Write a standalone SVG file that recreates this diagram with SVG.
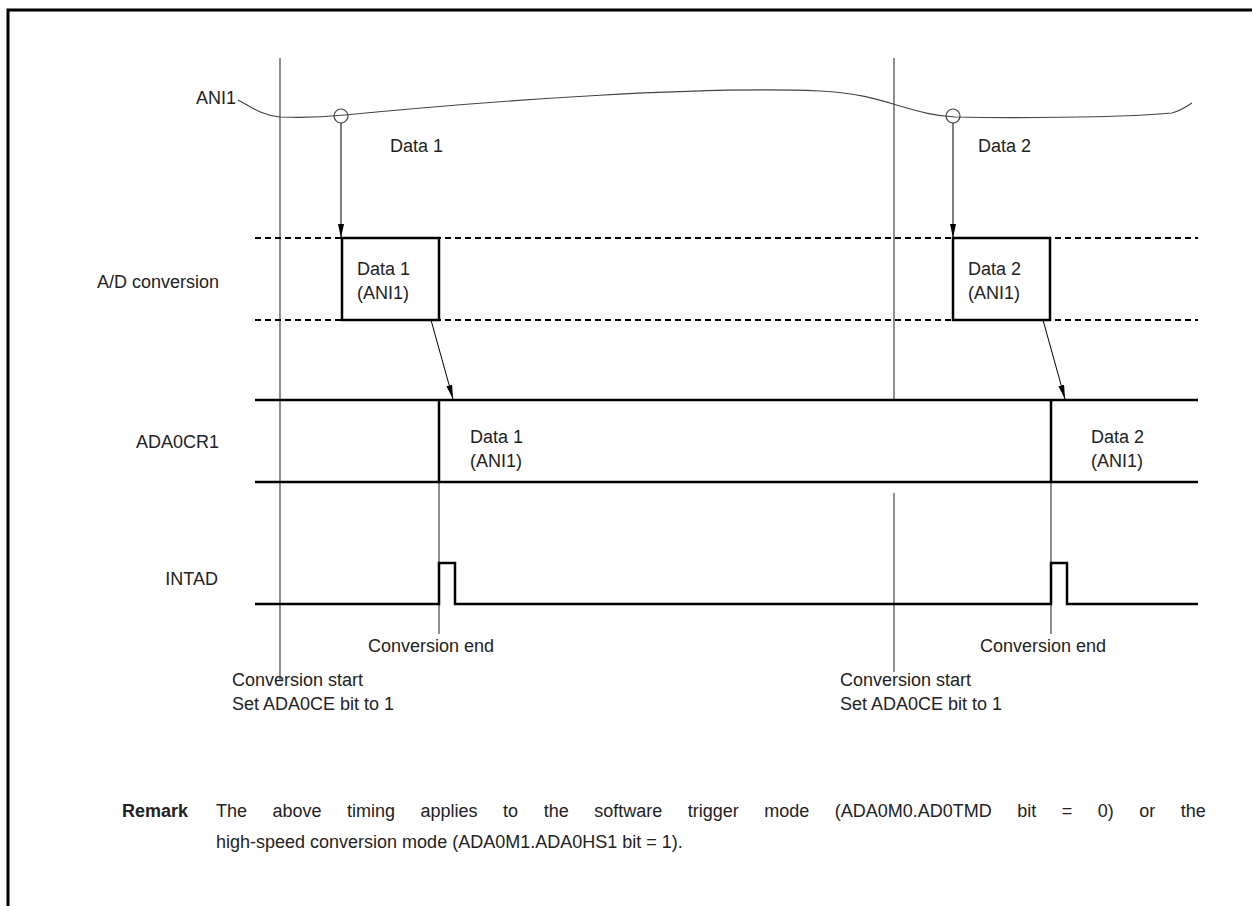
<svg xmlns="http://www.w3.org/2000/svg" width="1252" height="906" viewBox="0 0 1252 906">
<style>
text{font-family:"Liberation Sans",Arial,sans-serif;font-size:18px;fill:#222}
.lbl{text-anchor:end}
.rm{font-size:18px}
.thin{stroke:#444;stroke-width:1.2;fill:none}
.sig{stroke:#000;stroke-width:2.5;fill:none}
.dash{stroke:#000;stroke-width:2;stroke-dasharray:6 4;fill:none}
.box{stroke:#000;stroke-width:2.5;fill:#fff}
.arr{stroke:#000;stroke-width:1;fill:none;marker-end:url(#ah)}
</style>
<defs>
<marker id="ah" markerWidth="14" markerHeight="6" refX="14" refY="3" orient="auto" markerUnits="userSpaceOnUse" viewBox="0 0 14 6">
<path d="M0,0 L14,3 L0,6 Z" fill="#000"/>
</marker>
</defs>
<rect width="1252" height="906" fill="#fff"/>
<path d="M8,906 V10 H1252" stroke="#000" stroke-width="3" fill="none"/>

<g id="labels">
<text class="lbl" x="236" y="104">ANI1</text>
<text class="lbl" x="219" y="288">A/D conversion</text>
<text class="lbl" x="219" y="448">ADA0CR1</text>
<text class="lbl" x="218" y="585">INTAD</text>
</g>

<g id="guides">
<path class="thin" d="M280,58 V680"/>
<path class="thin" d="M894,58 V400 M894,493 V672"/>
<path class="thin" d="M439,482 V634 M1051,482 V634"/>
</g>

<g id="ani1">
<path class="thin" stroke-width="1" d="M238,100 C250,106 260,115 280,117 C300,118 325,117 345,115 C500,100 700,86 820,91 C860,93 880,100 900,106 C920,112 935,116 955,117 C1000,118 1120,118 1172,113 C1180,111 1186,107 1192,103"/>
<circle cx="341" cy="116" r="7" class="thin" stroke-width="1"/>
<circle cx="953" cy="116" r="7" class="thin" stroke-width="1"/>
<text x="390" y="152">Data 1</text>
<text x="978" y="152">Data 2</text>
</g>

<g id="adconv">
<path class="dash" d="M255,238 H1198 M255,320 H1198"/>
<g id="box1">
<rect class="box" x="342" y="238" width="97" height="82"/>
<text x="357" y="275">Data 1</text>
<text x="357" y="299">(ANI1)</text>
</g>
<g id="box2">
<rect class="box" x="953" y="238" width="97" height="82"/>
<text x="968" y="275">Data 2</text>
<text x="968" y="299">(ANI1)</text>
</g>
</g>

<g id="ada0cr1">
<path class="sig" d="M255,400 H1198 M255,482 H1198 M439,400 V482 M1051,400 V482"/>
<text x="470" y="443">Data 1</text>
<text x="470" y="467">(ANI1)</text>
<text x="1091" y="443">Data 2</text>
<text x="1091" y="467">(ANI1)</text>
</g>

<g id="intad">
<path class="sig" d="M255,604 H439 V563 H455 V604 H1051 V563 H1067 V604 H1198"/>
</g>

<g id="connectors">
<path class="arr" d="M341,123 V238"/>
<path class="arr" d="M953,123 V238"/>
<path class="arr" d="M431,320 L453,399"/>
<path class="arr" d="M1043,320 L1065,399"/>
</g>

<g id="notes">
<text x="368" y="652">Conversion end</text>
<text x="980" y="652">Conversion end</text>
<text x="232" y="686">Conversion start</text>
<text x="232" y="710">Set ADA0CE bit to 1</text>
<text x="840" y="686">Conversion start</text>
<text x="840" y="710">Set ADA0CE bit to 1</text>
</g>

<g id="remark">
<text class="rm" x="122" y="817" font-weight="bold">Remark</text>
<text class="rm" x="216" y="817" word-spacing="20.5">The above timing applies to the software trigger mode (ADA0M0.AD0TMD bit = 0) or the</text>
<text class="rm" x="216" y="848">high-speed conversion mode (ADA0M1.ADA0HS1 bit = 1).</text>
</g>
</svg>
